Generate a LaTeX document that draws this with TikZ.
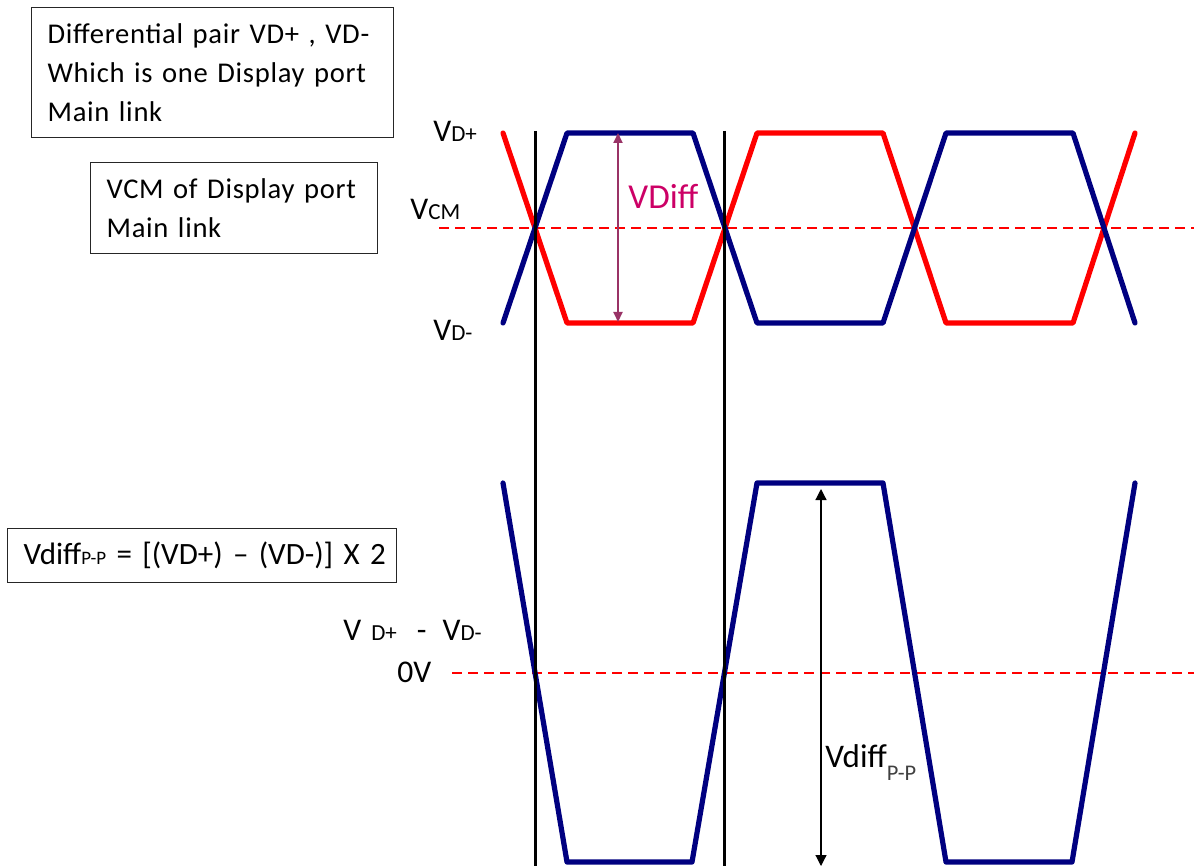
\documentclass[tikz,border=0pt]{standalone}
\usepackage{fontspec}
\setmainfont{Carlito}
\newfontfamily\boxfont[LetterSpace=2.5]{Carlito}
\usetikzlibrary{arrows.meta}
\definecolor{navy}{HTML}{000080}
\definecolor{vred}{HTML}{FF0000}
\definecolor{vpurple}{HTML}{993366}
\definecolor{vmag}{HTML}{CC0066}
\newcommand{\bigf}{\fontsize{15.8}{18}\selectfont}
\newcommand{\smf}{\fontsize{11.5}{12}\selectfont}
\begin{document}
\begin{tikzpicture}[x=0.5pt,y=-0.5pt,
  box/.style={draw=black!85, line width=0.6pt, anchor=north west, align=left,
    inner xsep=8pt, inner ysep=0pt, font=\boxfont\fontsize{14.3}{19.5}\selectfont},
  lbl/.style={inner sep=0pt, anchor=base west},
  wave/.style={line width=2.6pt, line cap=round, line join=round},
  marker/.style={line width=1.5pt, black},
  refline/.style={vred, line width=1.2pt, dash pattern=on 5pt off 3pt}]
\useasboundingbox (0,0) rectangle (1194,866);

% text boxes
\node[box, text width=165pt, minimum height=65pt] (b1) at (31,7)
  {Differential pair VD+ , VD-\\Which is one Display port\\Main link};
\node[box, text width=127.5pt, minimum height=45.5pt] (b2) at (90,162)
  {VCM of Display port\\Main link};
\node[box, text width=178.5pt, minimum height=27pt, font=\fontsize{15.5}{18}\selectfont] (b3) at (7,528)
  {\mbox{Vdiff{\fontsize{9.5}{10}\selectfont P-P} = [(VD+) -- (VD-)] X 2}};

% reference lines
\coordinate (vcmL) at (439,228); \coordinate (vcmR) at (1194,228);
\coordinate (zL) at (452,673); \coordinate (zR) at (1194,673);
\draw[refline] (vcmL) -- (vcmR);
\draw[refline] (zL) -- (zR);

% top waveforms
\draw[wave, vred] (503,133) -- (567,323) -- (693,323) -- (757,133) -- (883,133)
  -- (946,323) -- (1073,323) -- (1135,133);
\draw[wave, navy] (503,323) -- (567,133) -- (693,133) -- (757,323) -- (883,323)
  -- (946,133) -- (1073,133) -- (1135,323);

% bottom waveform
\draw[wave, navy] (503,483) -- (567,862) -- (692,862) -- (757,483) -- (883,483)
  -- (946,862) -- (1072,862) -- (1135,483);

% vertical markers
\coordinate (m1t) at (535,131); \coordinate (m1b) at (535,866);
\coordinate (m2t) at (724,131); \coordinate (m2b) at (724,866);
\draw[marker] (m1t) -- (m1b);
\draw[marker] (m2t) -- (m2b);

% VDiff arrow
\coordinate (d1) at (618,133); \coordinate (d2) at (618,322);
\draw[vpurple, line width=1pt, {Triangle[length=5pt,width=4.5pt]}-{Triangle[length=5pt,width=4.5pt]}] (d1) -- (d2);
\node[lbl, text=vmag, font=\fontsize{17.5}{18}\selectfont] (vdiff) at (628,209) {VDiff};

% Vdiff P-P arrow
\coordinate (p1) at (821,489); \coordinate (p2) at (821,866);
\draw[black, line width=0.6pt, {Triangle[length=5.5pt,width=5.5pt]}-{Triangle[length=5.5pt,width=5.5pt]}] (p1) -- (p2);
\node[lbl, font=\fontsize{16.5}{18}\selectfont] (vpp) at (825,767)
  {Vdiff\raisebox{-6.5pt}{\textcolor{black!75}{\fontsize{11.2}{12}\selectfont P-P}}};

% level labels
\node[lbl] (lvdp) at (433,142) {\bigf V\smf D+};
\node[lbl] (lvcm) at (410,220) {\bigf V\smf CM};
\node[lbl] (lvdm) at (433,340) {\bigf V\smf D-};
\node[lbl] (ldiff) at (343,640)
  {\bigf V\hspace{5pt}{\smf D+}\hspace{10pt}-\hspace{8pt}V{\smf D-}};
\node[lbl, font=\bigf] (l0v) at (397,682) {0V};
\end{tikzpicture}
\end{document}
